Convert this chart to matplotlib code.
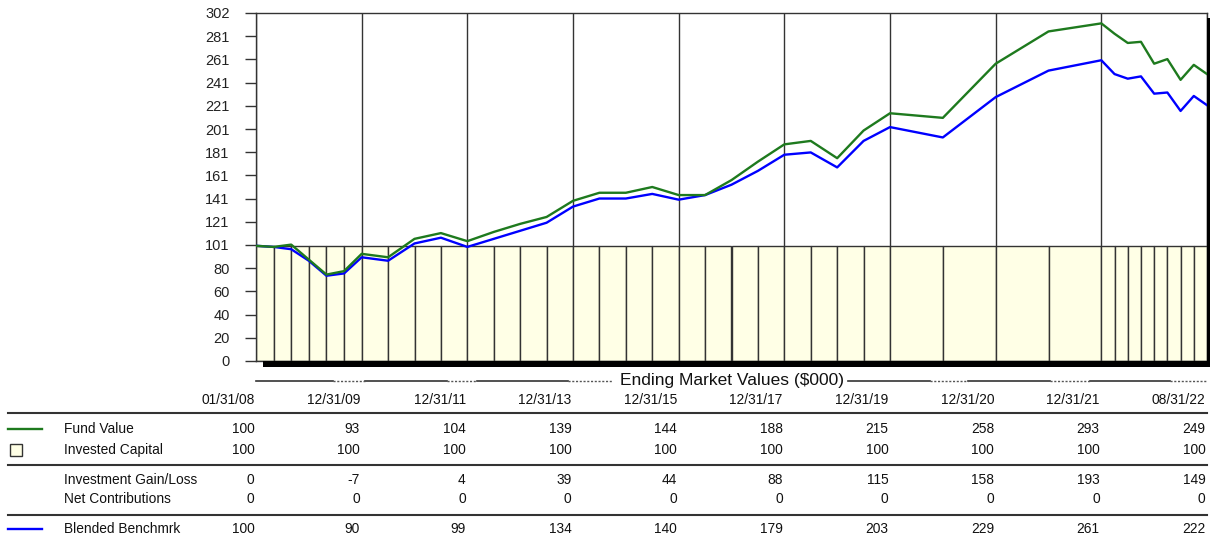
import numpy as np
import matplotlib.pyplot as plt
from matplotlib.lines import Line2D
from matplotlib.patches import Rectangle
from matplotlib.transforms import blended_transform_factory

plt.rcParams['font.family'] = ['Liberation Sans', 'DejaVu Sans']

# Table columns (labelled dates) and number of periods between two labels
date_labels = ['01/31/08', '12/31/09', '12/31/11', '12/31/13', '12/31/15',
               '12/31/17', '12/31/19', '12/31/20', '12/31/21', '08/31/22']
periods_per_span = [6, 4, 4, 4, 4, 4, 2, 2, 8]

# Values at every period end ($000)
fund_value = [100, 99, 101, 88, 75, 78, 93,
              90, 106, 111, 104,
              112, 119, 125, 139,
              146, 146, 151, 144,
              144, 157, 173, 188,
              191, 176, 200, 215,
              211, 258,
              286, 293,
              284, 276, 277, 258, 262, 244, 257, 249]
benchmark = [100, 99, 97, 87, 74, 76, 90,
             87, 102, 107, 99,
             106, 113, 120, 134,
             141, 141, 145, 140,
             144, 153, 165, 179,
             181, 168, 191, 203,
             194, 229,
             252, 261,
             249, 245, 247, 232, 233, 217, 230, 222]
invested_capital = [100] * 38
net_contributions = [0] * 10

ytick_labels = ['0', '20', '40', '60', '80', '101', '121', '141', '161', '181',
                '201', '221', '241', '261', '281', '302']

# x position of each period end: every labelled column gets the same width
xs = [0.0]
for i, n in enumerate(periods_per_span):
    xs += list(i + np.arange(1, n + 1) / n)
xs = np.array(xs)
label_idx = np.concatenate([[0], np.cumsum(periods_per_span)])

W, H = 1210, 537
def fx(px):
    return px / W
def fy(py):
    return 1 - py / H

fig = plt.figure(figsize=(12.1, 5.37), dpi=100)
ax = fig.add_axes([fx(256), fy(361), fx(1207) - fx(256), (361 - 13) / H])

# invested capital bars
ax.bar(xs[:-1], invested_capital, width=np.diff(xs), align='edge',
       facecolor='#FFFFE6', edgecolor='#333333', linewidth=1, zorder=1)
# column lines above the bars
ax.vlines(range(len(date_labels)), 100, 302, color='#333333', linewidth=1, zorder=1)

ax.plot(xs, benchmark, color='#0000FF', linewidth=1.7, zorder=3)
ax.plot(xs, fund_value, color='#1E7A1E', linewidth=1.7, zorder=4)

ax.set_xlim(0, len(date_labels) - 1)
ax.set_ylim(0, 302)
ax.set_xticks([])
ax.set_yticks(np.linspace(0, 302, 16))
ax.set_yticklabels(ytick_labels)
ax.tick_params(axis='y', length=8, width=1, pad=11, labelsize=10.5,
               color='#333333', labelcolor='#222222')
for s in ax.spines.values():
    s.set_color('#333333')
    s.set_linewidth(1)

# 3D shadow at bottom and right
fig.add_artist(Rectangle((fx(263), fy(367)), fx(1210) - fx(263), (367 - 361) / H,
                         facecolor='black', edgecolor='none', transform=fig.transFigure))
fig.add_artist(Rectangle((fx(1207), fy(367)), fx(1211) - fx(1207), (367 - 18) / H,
                         facecolor='black', edgecolor='none', transform=fig.transFigure))

# header line with the title of the table
tr = blended_transform_factory(ax.transData, fig.transFigure)
yh = fy(381)
solid = [(0, 0.73), (1.03, 1.81), (2.09, 2.95), (5.6, 6.38), (6.74, 7.51), (7.89, 8.65)]
dotted = [(0.73, 1.03), (1.81, 2.09), (2.95, 3.37), (6.38, 6.74), (7.51, 7.89), (8.65, 9.0)]
for a, b in solid:
    fig.add_artist(Line2D([a, b], [yh, yh], color='#333333', linewidth=1.2, transform=tr))
for a, b in dotted:
    fig.add_artist(Line2D([a, b], [yh, yh], color='#555555', linewidth=1,
                          linestyle=(0, (1.5, 1.2)), transform=tr))
fig.text(4.5, yh, 'Ending Market Values ($000)', transform=tr, ha='center', va='center',
         fontsize=12.5, color='#111111')

# table
fs = 9.9
off = -0.015
for i, lab in enumerate(date_labels):
    fig.text(i + off, fy(400), lab, transform=tr, ha='right', va='center', fontsize=fs,
             color='#111111')

fund_cols = [fund_value[k] for k in label_idx]
bench_cols = [benchmark[k] for k in label_idx]
inv_cols = [invested_capital[min(k, len(invested_capital) - 1)] for k in label_idx]
gain_cols = [f - c for f, c in zip(fund_cols, inv_cols)]

rows = [('Fund Value', fund_cols, 429),
        ('Invested Capital', inv_cols, 450),
        ('Investment Gain/Loss', gain_cols, 480),
        ('Net Contributions', net_contributions, 499),
        ('Blended Benchmrk', bench_cols, 529)]
for name, vals, py in rows:
    fig.text(fx(64), fy(py), name, ha='left', va='center', fontsize=fs, color='#111111')
    for i, v in enumerate(vals):
        fig.text(i + off, fy(py), str(v), transform=tr, ha='right', va='center',
                 fontsize=fs, color='#111111')

for py in [413, 465, 515]:
    fig.add_artist(Line2D([fx(8), fx(1207)], [fy(py), fy(py)], color='#333333',
                          linewidth=1.5, transform=fig.transFigure))

# legend keys on the left
fig.add_artist(Line2D([fx(8), fx(42)], [fy(429), fy(429)], color='#1E7A1E',
                      linewidth=1.7, transform=fig.transFigure))
fig.add_artist(Line2D([fx(8), fx(42)], [fy(529), fy(529)], color='#0000FF',
                      linewidth=1.7, transform=fig.transFigure))
fig.add_artist(Rectangle((fx(10), fy(456)), fx(22) - fx(10), 12 / H, facecolor='#FFFFE6',
                         edgecolor='#333333', linewidth=1, transform=fig.transFigure))

fig.savefig('out.png', dpi=100)
